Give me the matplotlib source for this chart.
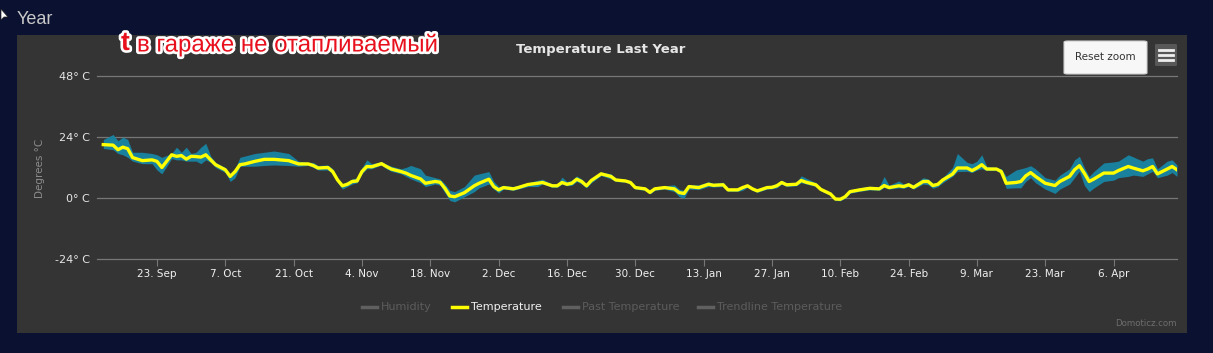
import matplotlib
matplotlib.use("Agg")
import matplotlib.pyplot as plt
import matplotlib.patheffects as pe
from matplotlib.patches import Rectangle, FancyBboxPatch, Polygon
from matplotlib.lines import Line2D
import pandas as pd

# ---------------- data ----------------
dates = [
    "2019-09-12", "2019-09-14", "2019-09-15", "2019-09-16", "2019-09-17", "2019-09-18", "2019-09-20",
    "2019-09-22", "2019-09-23", "2019-09-24", "2019-09-26", "2019-09-27", "2019-09-28", "2019-09-29",
    "2019-09-30", "2019-10-01", "2019-10-02", "2019-10-03", "2019-10-04", "2019-10-05", "2019-10-07",
    "2019-10-08", "2019-10-09", "2019-10-10", "2019-10-11", "2019-10-13", "2019-10-15", "2019-10-17",
    "2019-10-20", "2019-10-22", "2019-10-24", "2019-10-25", "2019-10-26", "2019-10-28", "2019-10-29",
    "2019-10-30", "2019-10-31", "2019-11-01", "2019-11-02", "2019-11-03", "2019-11-04", "2019-11-05",
    "2019-11-06", "2019-11-08", "2019-11-09", "2019-11-10", "2019-11-12", "2019-11-13", "2019-11-14",
    "2019-11-16", "2019-11-17", "2019-11-19", "2019-11-20", "2019-11-21", "2019-11-22", "2019-11-23",
    "2019-11-25", "2019-11-27", "2019-11-28", "2019-11-30", "2019-12-01", "2019-12-02", "2019-12-03",
    "2019-12-05", "2019-12-06", "2019-12-08", "2019-12-10", "2019-12-11", "2019-12-13", "2019-12-14",
    "2019-12-15", "2019-12-16", "2019-12-17", "2019-12-18", "2019-12-19", "2019-12-20", "2019-12-21",
    "2019-12-23", "2019-12-25", "2019-12-26", "2019-12-28", "2019-12-29", "2019-12-30", "2020-01-01",
    "2020-01-02", "2020-01-03", "2020-01-05", "2020-01-07", "2020-01-08", "2020-01-09", "2020-01-10",
    "2020-01-12", "2020-01-14", "2020-01-15", "2020-01-17", "2020-01-18", "2020-01-20", "2020-01-21",
    "2020-01-22", "2020-01-23", "2020-01-24", "2020-01-26", "2020-01-27", "2020-01-28", "2020-01-29",
    "2020-01-30", "2020-02-01", "2020-02-02", "2020-02-03", "2020-02-05", "2020-02-06", "2020-02-08",
    "2020-02-09", "2020-02-10", "2020-02-11", "2020-02-12", "2020-02-14", "2020-02-16", "2020-02-18",
    "2020-02-19", "2020-02-20", "2020-02-22", "2020-02-23", "2020-02-24", "2020-02-25", "2020-02-27",
    "2020-02-28", "2020-02-29", "2020-03-01", "2020-03-02", "2020-03-04", "2020-03-05", "2020-03-07",
    "2020-03-08", "2020-03-09", "2020-03-10", "2020-03-11", "2020-03-13", "2020-03-14", "2020-03-15",
    "2020-03-17", "2020-03-18", "2020-03-19", "2020-03-20", "2020-03-21", "2020-03-23", "2020-03-25",
    "2020-03-26", "2020-03-28", "2020-03-29", "2020-03-30", "2020-03-31", "2020-04-01", "2020-04-02",
    "2020-04-04", "2020-04-06", "2020-04-07", "2020-04-09", "2020-04-10", "2020-04-12", "2020-04-13",
    "2020-04-14", "2020-04-15", "2020-04-17", "2020-04-18", "2020-04-19",
]

temp = [
    21.0, 20.8, 19.0, 20.0, 19.4, 15.9, 14.7,
    15.0, 14.4, 12.0, 17.0, 16.4, 16.7, 15.3,
    16.4, 16.3, 16.1, 17.0, 15.0, 13.1, 11.1,
    8.5, 10.4, 13.1, 13.4, 14.4, 15.2, 15.2,
    14.7, 13.4, 13.4, 12.8, 11.8, 12.0, 10.4,
    7.1, 4.8, 5.4, 6.5, 6.7, 10.4, 12.4,
    12.3, 13.5, 12.4, 11.4, 10.4, 9.8, 8.9,
    7.5, 5.8, 6.5, 6.2, 3.8, 0.8, 0.5,
    2.1, 4.8, 5.8, 7.4, 4.5, 3.2, 4.1,
    3.6, 4.1, 5.3, 5.8, 6.1, 4.8, 4.8,
    6.1, 5.4, 5.8, 7.4, 6.5, 4.8, 6.9,
    9.5, 8.5, 7.1, 6.7, 6.1, 4.1, 3.6,
    2.2, 3.6, 4.1, 3.6, 2.1, 1.8, 4.5,
    4.1, 5.4, 5.0, 5.2, 3.2, 3.2, 4.1,
    4.8, 3.6, 2.8, 4.1, 4.2, 4.8, 6.1,
    5.2, 5.4, 6.9, 6.2, 5.2, 3.4, 1.6,
    -0.4, -0.5, 0.5, 2.5, 3.2, 3.8, 3.6,
    4.9, 4.1, 4.8, 4.5, 5.2, 4.2, 6.5,
    6.5, 4.9, 5.4, 7.1, 9.4, 11.8, 11.8,
    10.8, 11.8, 13.1, 11.4, 11.4, 10.4, 5.8,
    6.1, 6.5, 8.7, 10.0, 8.5, 5.8, 4.9,
    6.5, 8.5, 11.1, 12.7, 9.8, 6.5, 7.5,
    9.8, 9.8, 10.8, 12.4, 11.8, 10.7, 11.4,
    12.4, 9.5, 11.4, 12.4, 11.1,
]

temp_min = [
    19.5, 19.0, 17.5, 17.0, 16.0, 14.5, 13.5,
    13.5, 11.0, 9.5, 15.5, 15.0, 15.0, 14.5,
    14.5, 14.5, 13.5, 15.0, 14.0, 12.0, 10.0,
    6.5, 8.0, 12.5, 12.5, 12.5, 12.8, 13.0,
    12.8, 12.5, 12.8, 12.0, 11.0, 11.0, 9.5,
    6.0, 3.5, 4.5, 5.5, 6.0, 9.5, 11.5,
    11.5, 13.0, 11.5, 10.5, 9.5, 8.5, 7.5,
    6.0, 4.5, 5.5, 5.0, 2.0, -1.0, -1.5,
    0.5, 2.5, 4.0, 5.5, 3.5, 2.0, 3.5,
    3.0, 3.5, 4.5, 4.5, 5.5, 4.2, 4.2,
    5.5, 4.8, 5.0, 6.5, 5.5, 4.0, 6.0,
    8.8, 7.5, 6.5, 6.2, 5.5, 3.5, 3.0,
    1.6, 3.0, 3.5, 2.5, 0.5, -0.1, 3.5,
    3.3, 4.5, 4.3, 4.5, 2.6, 2.6, 3.0,
    4.2, 3.0, 2.2, 3.5, 3.6, 4.0, 5.5,
    4.5, 4.8, 6.0, 5.5, 4.5, 2.8, 1.0,
    -1.0, -1.1, -0.1, 1.9, 2.6, 3.2, 3.0,
    4.2, 3.5, 4.0, 3.8, 4.5, 3.5, 5.5,
    5.2, 3.8, 4.5, 6.0, 8.5, 10.4, 10.5,
    10.0, 11.0, 11.5, 10.8, 10.8, 9.5, 3.8,
    4.0, 4.0, 6.5, 8.0, 6.0, 3.5, 1.8,
    3.5, 5.5, 8.0, 10.5, 5.0, 2.5, 4.0,
    6.5, 7.0, 8.0, 8.5, 9.0, 8.5, 9.5,
    10.5, 8.0, 9.0, 10.0, 8.5,
]

temp_max = [
    23.0, 25.0, 22.5, 24.0, 23.0, 18.0, 18.0,
    17.5, 17.0, 16.0, 17.5, 20.0, 18.0, 20.0,
    17.5, 18.0, 20.0, 21.5, 16.5, 14.0, 12.0,
    9.5, 11.5, 16.0, 16.5, 17.5, 18.0, 18.5,
    17.5, 14.5, 14.0, 14.0, 12.8, 13.0, 11.5,
    8.0, 5.5, 6.5, 7.5, 8.0, 12.0, 15.0,
    13.5, 14.3, 13.3, 12.5, 11.5, 12.0, 12.8,
    11.5, 9.0, 8.0, 7.5, 5.5, 3.0, 2.5,
    4.5, 9.0, 9.5, 10.4, 6.5, 4.5, 5.0,
    4.5, 5.0, 6.0, 7.0, 7.4, 5.5, 5.5,
    8.2, 6.5, 7.0, 8.7, 7.5, 5.5, 7.5,
    10.2, 9.5, 7.8, 7.2, 6.8, 4.8, 4.2,
    2.8, 4.2, 4.8, 5.2, 3.5, 3.0, 5.2,
    5.2, 6.4, 5.8, 6.2, 3.8, 3.8, 4.8,
    5.4, 4.2, 3.4, 4.8, 5.0, 5.8, 7.0,
    6.0, 6.2, 8.7, 7.8, 6.0, 4.0, 2.2,
    0.2, 0.1, 1.1, 3.1, 4.0, 4.6, 4.5,
    8.5, 5.0, 6.7, 5.5, 6.0, 5.2, 8.0,
    7.5, 5.8, 6.2, 8.0, 12.0, 17.5, 14.0,
    13.5, 14.5, 17.0, 12.5, 12.0, 11.5, 8.5,
    11.0, 11.5, 12.0, 12.7, 11.5, 8.0, 7.0,
    9.0, 11.5, 15.0, 16.4, 12.0, 8.5, 10.5,
    13.8, 14.2, 14.5, 17.0, 16.2, 14.5, 15.5,
    15.8, 11.5, 14.5, 15.0, 13.0,
]

tick_dates = ["2019-09-23", "2019-10-07", "2019-10-21", "2019-11-04", "2019-11-18",
              "2019-12-02", "2019-12-16", "2019-12-30", "2020-01-13", "2020-01-27",
              "2020-02-10", "2020-02-24", "2020-03-09", "2020-03-23", "2020-04-06"]
tick_labels = ["23. Sep", "7. Oct", "21. Oct", "4. Nov", "18. Nov", "2. Dec", "16. Dec",
               "30. Dec", "13. Jan", "27. Jan", "10. Feb", "24. Feb", "9. Mar", "23. Mar", "6. Apr"]
y_ticks = [-24, 0, 24, 48]
y_tick_labels = ["-24° C", "0° C", "24° C", "48° C"]
legend_items = ["Humidity", "Temperature", "Past Temperature", "Trendline Temperature"]
legend_active = [False, True, False, False]

# ---------------- figure ----------------
W, H = 1213, 353
fig = plt.figure(figsize=(W / 100, H / 100), dpi=100)
fig.patch.set_facecolor("#0b1130")

def fx(x):
    return x / W

def fy(y):
    return 1 - y / H

# chart container
fig.patches.append(Rectangle((fx(17), fy(333)), fx(1187) - fx(17), fy(35) - fy(333),
                             transform=fig.transFigure, facecolor="#343434", edgecolor="none", zorder=-5))

ax = fig.add_axes([fx(97), fy(259), fx(1177) - fx(97), fy(76) - fy(259)])
ax.set_zorder(2)
ax.patch.set_alpha(0)

d = pd.to_datetime(dates)
ax.fill_between(d, temp_min, temp_max, color="#19809e", linewidth=0, zorder=2)
ax.plot(d, temp, color="#ffff00", linewidth=2.4, zorder=3, solid_joinstyle="round")

ax.set_ylim(-24, 48)
ax.set_xlim(pd.Timestamp("2019-09-10 17:00"), pd.Timestamp("2020-04-19 00:00"))
ax.set_yticks(y_ticks)
ax.set_yticklabels(y_tick_labels)
ax.set_xticks(pd.to_datetime(tick_dates))
ax.set_xticklabels(tick_labels)
for yv in y_ticks:
    ax.axhline(yv, color="#777777", linewidth=0.9, zorder=1, clip_on=False)
for s in ax.spines.values():
    s.set_visible(False)
ax.tick_params(axis="y", length=0, pad=5, labelsize=8, labelcolor="#e6e6e6")
ax.tick_params(axis="x", length=5, width=0.8, color="#777777", pad=2.5, labelsize=7.5,
               labelcolor="#f0f0f0", direction="out")
for lab in ax.get_xticklabels() + ax.get_yticklabels():
    lab.set_fontfamily("DejaVu Sans")

fig.text(fx(40), fy(168), "Degrees °C", rotation=90, ha="center", va="center",
         fontsize=7.5, color="#8c8c8c")

# title
fig.text(fx(601), fy(49), "Temperature Last Year", ha="center", va="center",
         fontsize=9.5, fontweight="bold", color="#e6e6e6")

# page heading
fig.text(fx(17), fy(20), "Year", ha="left", va="center", fontsize=13,
         color="#c8c8c8", family="Liberation Sans")

# cursor
fig.patches.append(Polygon([[fx(1), fy(9)], [fx(1), fy(20)], [fx(4), fy(17)], [fx(8), fy(17)]],
                           closed=True, transform=fig.transFigure, facecolor="white",
                           edgecolor="#222222", linewidth=0.5, zorder=5))

# red annotation
effects = [pe.withSimplePatchShadow(offset=(1.5, -1.5), shadow_rgbFace="#000000", alpha=0.6),
           pe.Stroke(linewidth=3.8, foreground="white"), pe.Normal()]
t1 = fig.text(fx(121), fy(43), "t", ha="left", va="center", fontsize=19, fontweight="bold",
              color="#e8101c", family="Liberation Sans", zorder=6)
t1.set_path_effects(effects)
t2 = fig.text(fx(137), fy(45), "в гараже не отапливаемый", ha="left", va="center", fontsize=17.3,
              color="#e8101c", family="Liberation Sans", zorder=6)
t2.set_path_effects(effects)

# reset zoom button
fig.patches.append(FancyBboxPatch((fx(1064), fy(74)), fx(1147) - fx(1064), fy(41) - fy(74),
                                  boxstyle="round,pad=0,rounding_size=0.003",
                                  transform=fig.transFigure, facecolor="#f7f7f7",
                                  edgecolor="#cccccc", linewidth=0.8, zorder=5))
fig.text(fx(1105.5), fy(57.5), "Reset zoom", ha="center", va="center", fontsize=7.5,
         color="#333333", zorder=6)

# menu button
fig.patches.append(FancyBboxPatch((fx(1155), fy(66)), fx(1177) - fx(1155), fy(44) - fy(66),
                                  boxstyle="round,pad=0,rounding_size=0.002",
                                  transform=fig.transFigure, facecolor="#585858",
                                  edgecolor="none", zorder=5))
for yy in (50, 55, 60):
    fig.lines.append(Line2D([fx(1159), fx(1173)], [fy(yy), fy(yy)], transform=fig.transFigure,
                            color="#eeeeee", linewidth=2.0, zorder=6))

# legend
leg_x = [362, 452, 563, 698]
for name, active, x0 in zip(legend_items, legend_active, leg_x):
    col = "#ffff00" if active else "#606060"
    tcol = "#f0f0f0" if active else "#5c5c5c"
    fig.lines.append(Line2D([fx(x0), fx(x0 + 15)], [fy(307), fy(307)], transform=fig.transFigure,
                            color=col, linewidth=2.5, zorder=6))
    fig.text(fx(x0 + 19), fy(307), name, ha="left", va="center", fontsize=8,
             color=tcol, zorder=6)

# credits
fig.text(fx(1177), fy(323), "Domoticz.com", ha="right", va="center", fontsize=6.2,
         color="#6e6e6e")

fig.savefig("out.png", dpi=100, facecolor=fig.get_facecolor())
